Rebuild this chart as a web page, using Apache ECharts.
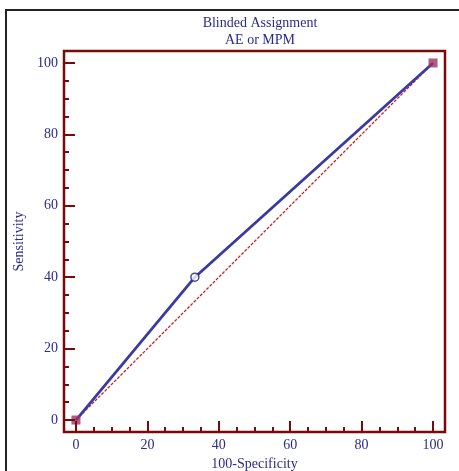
<!DOCTYPE html>
<html>
<head>
<meta charset="utf-8">
<script src="https://cdn.jsdelivr.net/npm/echarts@6/dist/echarts.min.js"></script>
<style>
html,body{margin:0;padding:0;background:#fff;}
#c{width:459px;height:471px;}
</style>
</head>
<body>
<div id="c"></div>
<script>
// Data
const titleLines = ["Blinded Assignment", "AE or MPM"];
const xName = "100-Specificity";
const yName = "Sensitivity";
const rocX = [0, 33.3, 100];
const rocY = [0, 40, 100];
const endPointsX = [0, 100];
const endPointsY = [0, 100];
const diagX = [0, 100];
const diagY = [0, 100];
const majorTicks = [0, 20, 40, 60, 80, 100];
const minorTicks = [5, 10, 15, 25, 30, 35, 45, 50, 55, 65, 70, 75, 85, 90, 95];

const axisMin = -3.35, axisMax = 103.35;
const frameColor = '#7a0a0a';
const textColor = '#2b2b8c';
const font = 'Liberation Serif';

const chart = echarts.init(document.getElementById('c'), null, {renderer: 'canvas'});

function mkAxis(isX, ticks, len, showLabel, name) {
  const a = {
    type: 'value',
    min: axisMin, max: axisMax,
    gridIndex: 0,
    position: isX ? 'bottom' : 'left',
    axisLine: {show: false, onZero: false},
    splitLine: {show: false},
    axisTick: {show: true, inside: true, length: len, customValues: ticks,
      lineStyle: {color: frameColor, width: 2}},
    axisLabel: {show: showLabel, customValues: ticks, color: textColor,
      fontFamily: font, fontSize: 14, margin: 6},
    z: 5
  };
  if (name) {
    a.name = name;
    a.nameLocation = 'middle';
    a.nameTextStyle = {color: textColor, fontFamily: font, fontSize: 14};
    a.nameGap = isX ? 25 : 38;
  }
  return a;
}

const option = {
  animation: false,
  backgroundColor: '#fff',
  title: {
    text: titleLines.join('\n'),
    left: 255, top: 10, textAlign: 'center',
    textStyle: {color: textColor, fontFamily: font, fontSize: 14, fontWeight: 'normal', lineHeight: 17}
  },
  grid: {left: 64, top: 51, width: 381, height: 381, show: true,
    outerBoundsMode: 'none', containLabel: false,
    borderColor: frameColor, borderWidth: 2.5, backgroundColor: 'transparent'},
  xAxis: [mkAxis(true, majorTicks, 11, true, xName), mkAxis(true, minorTicks, 5, false)],
  yAxis: [mkAxis(false, majorTicks, 11, true, yName), mkAxis(false, minorTicks, 5, false)],
  graphic: [{
    type: 'rect', shape: {x: 6, y: 10, width: 470, height: 480},
    style: {fill: 'none', stroke: '#222', lineWidth: 2}, silent: true, z: 100
  }],
  series: [
    {
      type: 'line', xAxisIndex: 0, yAxisIndex: 0,
      data: diagX.map((x, i) => [x, diagY[i]]),
      showSymbol: false, symbol: 'none', color: '#c62020',
      lineStyle: {color: '#c62020', width: 1.3, type: [3, 1.5], opacity: 1}, z: 2
    },
    {
      type: 'line', xAxisIndex: 0, yAxisIndex: 0,
      data: rocX.map((x, i) => [x, rocY[i]]),
      symbol: 'none', color: '#3a3aa0',
      lineStyle: {color: '#3a3aa0', width: 2.8}, z: 3
    },
    {
      type: 'scatter', xAxisIndex: 0, yAxisIndex: 0,
      data: endPointsX.map((x, i) => [x, endPointsY[i]]),
      symbol: 'rect', symbolSize: 9,
      itemStyle: {color: '#993366'}, z: 4
    },
    {
      type: 'scatter', xAxisIndex: 0, yAxisIndex: 0,
      data: [[rocX[1], rocY[1]]],
      symbol: 'circle', symbolSize: 8,
      itemStyle: {color: '#fff', borderColor: '#1a1a80', borderWidth: 1.5}, z: 6
    }
  ]
};
chart.setOption(option);
</script>
</body>
</html>
